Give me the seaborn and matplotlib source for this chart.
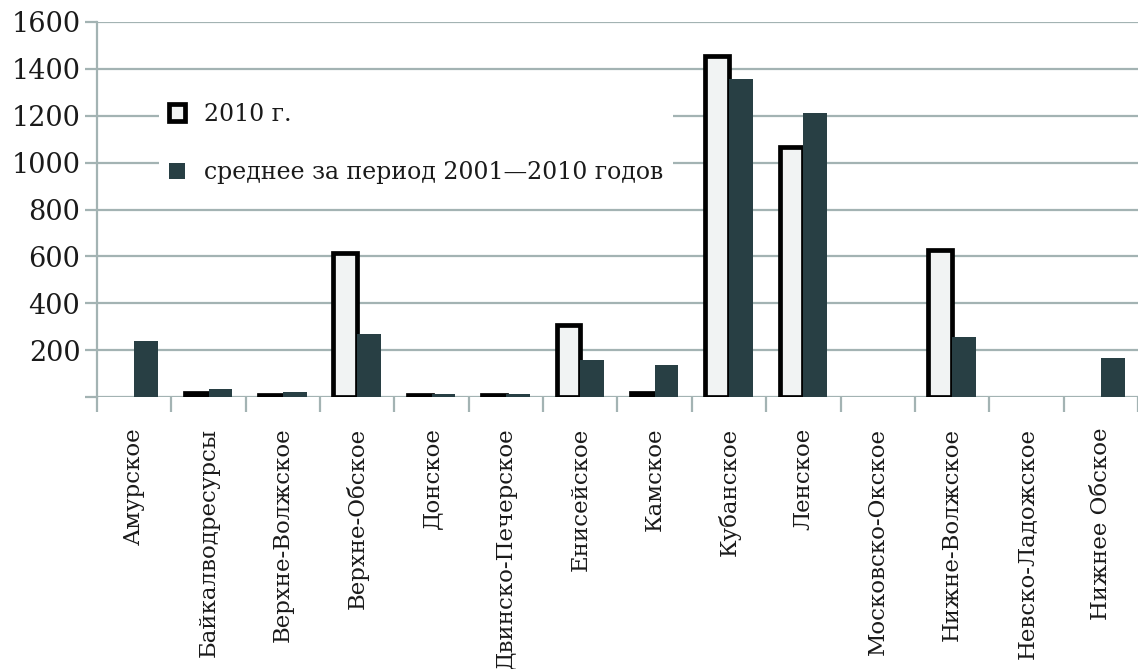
import numpy as np
import pandas as pd
import seaborn as sns
import matplotlib
matplotlib.use("Agg")
import matplotlib.pyplot as plt
from matplotlib.patches import Patch

categories = ["Амурское", "Байкалводресурсы", "Верхне-Волжское", "Верхне-Обское",
              "Донское", "Двинско-Печерское", "Енисейское", "Камское", "Кубанское",
              "Ленское", "Московско-Окское", "Нижне-Волжское", "Невско-Ладожское",
              "Нижнее Обское"]
values_2010 = [0, 15, 10, 615, 8, 8, 308, 15, 1455, 1068, 0, 628, 0, 0]
values_avg = [238, 36, 22, 270, 12, 12, 160, 135, 1355, 1210, 0, 255, 0, 168]
series = ["2010 г.", "среднее за период 2001—2010 годов"]
yticks = [0, 200, 400, 600, 800, 1000, 1200, 1400, 1600]
ytick_labels = ["", "200", "400", "600", "800", "1000", "1200", "1400", "1600"]

sns.set_style("white")
plt.rcParams["font.family"] = ["DejaVu Serif"]

df = pd.DataFrame({
    "cat": categories * 2,
    "val": values_2010 + values_avg,
    "ser": [series[0]] * len(categories) + [series[1]] * len(categories),
})

light = "#f1f3f3"
dark = "#283f44"
grid_c = "#a3b3b3"
text_c = "#1a1a1a"

fig = plt.figure(figsize=(11.38, 6.69), dpi=100)
ax = fig.add_axes([97 / 1138, 1 - 397 / 669, 1 - 97 / 1138, (397 - 22) / 669])

sns.barplot(data=df, x="cat", y="val", hue="ser", palette=[light, dark],
            width=0.64, gap=0, ax=ax, legend=False, saturation=1)

for bar in ax.containers[0]:
    if bar.get_height() > 0:
        bar.set_edgecolor("black")
        bar.set_linewidth(3.4)
    else:
        bar.set_linewidth(0)
for bar in ax.containers[1]:
    bar.set_linewidth(0)

ax.set_ylim(0, 1600)
ax.set_xlim(-0.5, -0.5 + 1041 / 75)
ax.set_yticks(yticks)
ax.set_yticklabels(ytick_labels, fontsize=19.5, color=text_c, fontweight="medium")
ax.yaxis.grid(True, color=grid_c, linewidth=1.6)
ax.set_axisbelow(True)
ax.tick_params(axis="y", length=9, width=1.6, color=grid_c, left=True, pad=3)

ax.set_xticks(range(len(categories)))
ax.set_xticklabels(categories, rotation=90, fontsize=16.5, color=text_c)
ax.set_xticks(np.arange(-0.5, len(categories), 1), minor=True)
ax.tick_params(axis="x", which="major", length=0, pad=22)
ax.tick_params(axis="x", which="minor", length=11, width=1.6, color=grid_c, bottom=True)

for s in ["top", "right", "bottom"]:
    ax.spines[s].set_visible(False)
ax.spines["left"].set_color(grid_c)
ax.spines["left"].set_linewidth(1.6)
ax.set_xlabel("")
ax.set_ylabel("")

handles = [Patch(facecolor=light, edgecolor="black", linewidth=3.4),
           Patch(facecolor=dark, edgecolor="none")]
leg = ax.legend(handles, series, loc="upper left", bbox_to_anchor=(0.06, 0.81),
                borderaxespad=0, frameon=True, fancybox=False, fontsize=17,
                handlelength=0.7, handleheight=0.7, labelspacing=1.5,
                handletextpad=0.8, borderpad=0.4)
for t in leg.get_texts():
    t.set_color(text_c)
leg.get_frame().set_facecolor("white")
leg.get_frame().set_edgecolor("none")
leg.get_frame().set_alpha(1)

fig.savefig("out.png", dpi=100)
